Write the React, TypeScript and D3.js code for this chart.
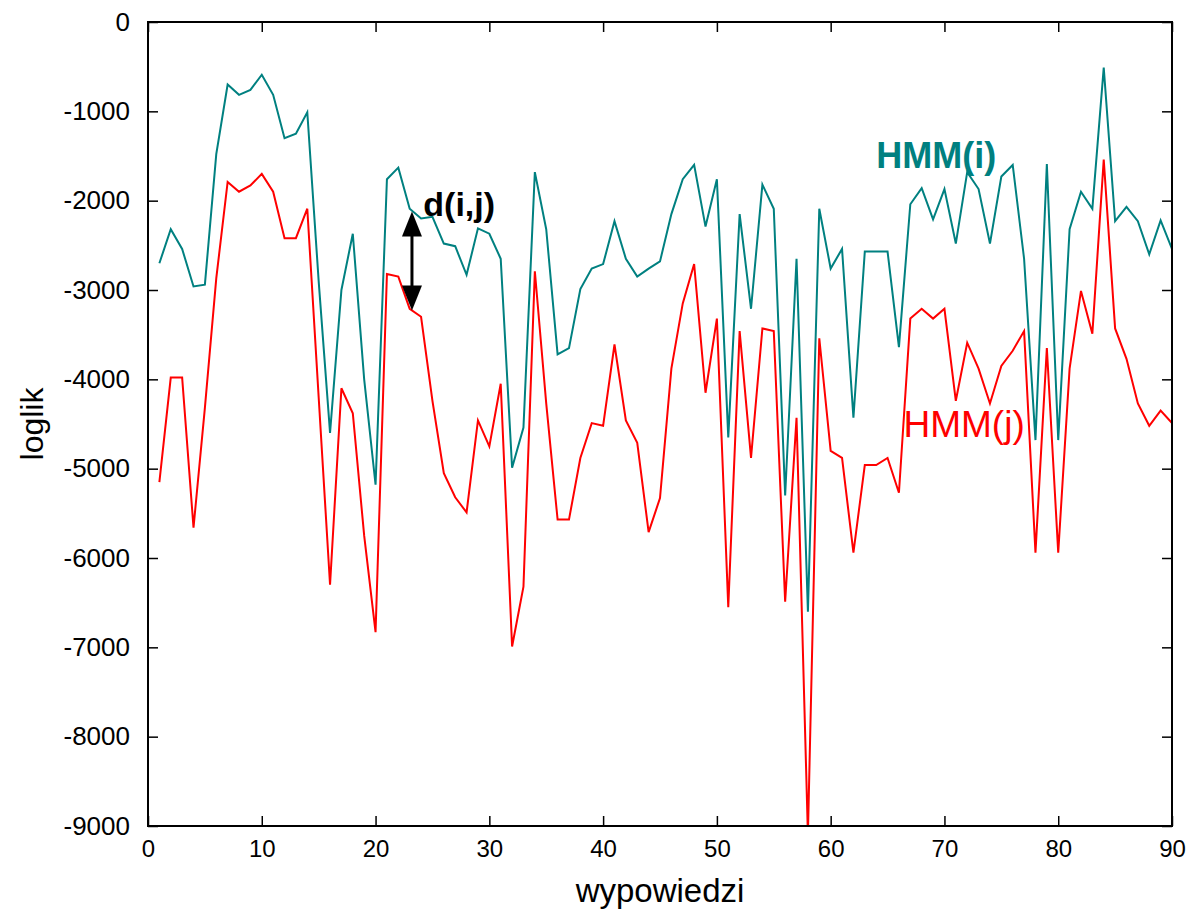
import * as d3 from 'd3'
import { useRef, useEffect } from 'react'

// utterance index 1..90
const utterances = d3.range(1, 91)

// log-likelihood under HMM(i) (teal)
const hmmI = [
  -2700, -2320, -2540, -2960, -2940, -1480, -700, -815, -760, -590,
  -815, -1300, -1250, -1010, -2900, -4600, -3000, -2370, -4000, -5180,
  -1760, -1630, -2090, -2200, -2180, -2480, -2510, -2830, -2310, -2370,
  -2650, -4990, -4540, -1680, -2320, -3720, -3650, -2990, -2760, -2710,
  -2230, -2650, -2850, -2760, -2680, -2150, -1760, -1600, -2290, -1760,
  -4650, -2150, -3210, -1820, -2090, -5300, -2650, -6600, -2090, -2760,
  -2540, -4430, -2570, -2570, -2570, -3640, -2040, -1860, -2210, -1870,
  -2480, -1680, -1870, -2480, -1730, -1600, -2650, -4680, -1590, -4680,
  -2320, -1900, -2090, -510, -2230, -2070, -2230, -2600, -2220, -2540,
]

// log-likelihood under HMM(j) (red)
const hmmJ = [
  -5150, -3980, -3980, -5660, -4320, -2870, -1790, -1900, -1830, -1700,
  -1900, -2420, -2420, -2090, -4200, -6300, -4100, -4380, -5750, -6830,
  -2820, -2850, -3210, -3300, -4240, -5050, -5320, -5490, -4460, -4750,
  -4050, -6990, -6320, -2790, -4270, -5570, -5570, -4880, -4490, -4520,
  -3610, -4460, -4710, -5710, -5330, -3880, -3150, -2710, -4150, -3320,
  -6550, -3460, -4880, -3430, -3460, -6490, -4430, -9100, -3540, -4800,
  -4880, -5940, -4960, -4960, -4880, -5270, -3320, -3210, -3320, -3210,
  -4240, -3590, -3880, -4270, -3850, -3680, -3460, -5940, -3650, -5940,
  -3880, -3010, -3490, -1540, -3430, -3770, -4270, -4520, -4350, -4490,
]

const xTicks = [0, 10, 20, 30, 40, 50, 60, 70, 80, 90]
const yTicks = [0, -1000, -2000, -3000, -4000, -5000, -6000, -7000, -8000, -9000]

const FONT = '"Liberation Sans", Arial, sans-serif'
const TEAL = '#008080'
const RED = '#ff0000'

export default function App() {
  const svgRef = useRef<SVGSVGElement>(null)

  useEffect(() => {
    const width = 1189
    const height = 919
    const margin = { top: 22, right: 17, bottom: 93, left: 148 }
    const innerWidth = width - margin.left - margin.right
    const innerHeight = height - margin.top - margin.bottom

    const svg = d3.select(svgRef.current)
    svg.selectAll('*').remove()
    svg.attr('width', width).attr('height', height).style('background', '#fff')

    const g = svg.append('g').attr('transform', `translate(${margin.left},${margin.top})`)

    const x = d3.scaleLinear().domain([0, 90]).range([0, innerWidth])
    const y = d3.scaleLinear().domain([-9000, 0]).range([innerHeight, 0])

    g.append('clipPath').attr('id', 'plot-clip')
      .append('rect').attr('width', innerWidth).attr('height', innerHeight)

    const line = d3.line<number>()
      .x((_, i) => x(utterances[i]))
      .y(d => y(d))

    const lines = g.append('g').attr('clip-path', 'url(#plot-clip)')
    lines.append('path')
      .attr('d', line(hmmI))
      .attr('fill', 'none')
      .attr('stroke', TEAL)
      .attr('stroke-width', 2)
    lines.append('path')
      .attr('d', line(hmmJ))
      .attr('fill', 'none')
      .attr('stroke', RED)
      .attr('stroke-width', 2)

    // axes, ticks pointing inward
    const styleAxis = (sel: any, size: number) => {
      sel.select('.domain').remove()
      sel.selectAll('line').attr('stroke', '#000').attr('stroke-width', 1.5)
      sel.selectAll('text').attr('fill', '#000').style('font-family', FONT).style('font-size', `${size}px`)
    }
    const plain = (d: any) => String(d)

    g.append('g')
      .call(d3.axisLeft(y).tickValues(yTicks).tickSize(-10).tickPadding(18).tickFormat(plain))
      .call(styleAxis, 26)
    g.append('g')
      .attr('transform', `translate(${innerWidth},0)`)
      .call(d3.axisRight(y).tickValues(yTicks).tickSize(-10).tickFormat(() => ''))
      .call(styleAxis, 10)
    g.append('g')
      .attr('transform', `translate(0,${innerHeight})`)
      .call(d3.axisBottom(x).tickValues(xTicks).tickSize(-10).tickPadding(14).tickFormat(plain))
      .call(styleAxis, 24)
    g.append('g')
      .call(d3.axisTop(x).tickValues(xTicks).tickSize(-10).tickFormat(() => ''))
      .call(styleAxis, 10)

    g.append('rect')
      .attr('width', innerWidth)
      .attr('height', innerHeight)
      .attr('fill', 'none')
      .attr('stroke', '#000')
      .attr('stroke-width', 2)

    // axis titles
    svg.append('text')
      .text('wypowiedzi')
      .attr('x', margin.left + innerWidth / 2)
      .attr('y', 902)
      .attr('text-anchor', 'middle')
      .style('font-family', FONT)
      .style('font-size', '33px')
    svg.append('text')
      .text('loglik')
      .attr('transform', `translate(43,${margin.top + innerHeight / 2}) rotate(-90)`)
      .attr('text-anchor', 'middle')
      .style('font-family', FONT)
      .style('font-size', '32px')

    // series labels
    g.append('text')
      .text('HMM(i)')
      .attr('x', x(64))
      .attr('y', y(-1634))
      .attr('fill', TEAL)
      .style('font-family', FONT)
      .style('font-weight', 'bold')
      .style('font-size', '36px')
    g.append('text')
      .text('HMM(j)')
      .attr('x', x(66.4))
      .attr('y', y(-4644))
      .attr('fill', RED)
      .style('font-family', FONT)
      .style('font-size', '37px')

    // d(i,j) annotation with double arrow
    g.append('text')
      .text('d(i,j)')
      .attr('x', x(24.2))
      .attr('y', y(-2171))
      .attr('fill', '#000')
      .style('font-family', FONT)
      .style('font-weight', 'bold')
      .style('font-size', '34px')

    const ax = x(23.2)
    const yTop = y(-2120)
    const yBot = y(-3230)
    const head = 25
    const half = 10
    g.append('line')
      .attr('x1', ax).attr('x2', ax)
      .attr('y1', yTop + head - 2).attr('y2', yBot - head + 2)
      .attr('stroke', '#000').attr('stroke-width', 3)
    g.append('path')
      .attr('d', `M${ax},${yTop}L${ax - half},${yTop + head}L${ax + half},${yTop + head}Z`)
      .attr('fill', '#000')
    g.append('path')
      .attr('d', `M${ax},${yBot}L${ax - half},${yBot - head}L${ax + half},${yBot - head}Z`)
      .attr('fill', '#000')
  }, [])

  return (
    <div style={{ position: 'absolute', left: 0, top: 0 }}>
      <svg ref={svgRef}></svg>
    </div>
  )
}
